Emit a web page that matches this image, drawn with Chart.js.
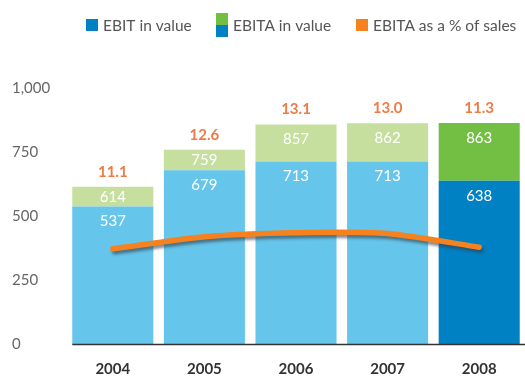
<!DOCTYPE html>
<html>
<head>
<meta charset="utf-8">
<script src="https://cdn.jsdelivr.net/npm/chart.js@4/dist/chart.umd.min.js"></script>
<style>
  html, body { margin: 0; padding: 0; background: #fff; }
  #wrap { width: 525px; height: 380px; }
</style>
</head>
<body>
<div id="wrap"><canvas id="c" width="525" height="380"></canvas></div>
<script>
// Yearly results (in millions) and EBITA margin
const years = ['2004', '2005', '2006', '2007', '2008'];
const ebit = [537, 679, 713, 713, 638];
const ebita = [614, 759, 857, 862, 863];
const ebitaPct = [11.1, 12.6, 13.1, 13.0, 11.3];
const yTicks = [0, 250, 500, 750, 1000];
const seriesNames = ['EBIT in value', 'EBITA in value', 'EBITA as a % of sales'];

// The latest year is shown in stronger colours
const highlightYear = '2008';
const C = {
  ebitLight: '#66c5eb', ebitDark: '#0081c4',
  ebitaLight: '#c6df9f', ebitaDark: '#72bf44',
  orange: '#f5821f', pctText: '#ef7b45',
  tick: '#666666', xTick: '#333333', legendText: '#555555'
};
const FONT = 'Lato, "Open Sans", sans-serif';

const ebitColors = years.map(y => y === highlightYear ? C.ebitDark : C.ebitLight);
const ebitaColors = years.map(y => y === highlightYear ? C.ebitaDark : C.ebitaLight);
// EBITA stacked on top of EBIT: the upper segment is the difference
const ebitaExtra = ebita.map((v, i) => v - ebit[i]);

const lineShadow = {
  id: 'lineShadow',
  beforeDatasetDraw(chart, args) {
    if (args.meta.type !== 'line') return;
    const ctx = chart.ctx;
    ctx.save();
    ctx.shadowColor = 'rgba(50,60,70,0.6)';
    ctx.shadowOffsetX = 2;
    ctx.shadowOffsetY = 3;
    ctx.shadowBlur = 3;
  },
  afterDatasetDraw(chart, args) {
    if (args.meta.type !== 'line') return;
    chart.ctx.restore();
  }
};

const barLabels = {
  id: 'barLabels',
  afterDatasetsDraw(chart) {
    const ctx = chart.ctx;
    const m0 = chart.getDatasetMeta(0);
    const m1 = chart.getDatasetMeta(1);
    const yScale = chart.scales.y;
    ctx.save();
    // baseline under the bars
    const first = m0.data[0];
    const y0 = Math.round(yScale.getPixelForValue(0)) + 0.5;
    ctx.strokeStyle = '#333333';
    ctx.lineWidth = 1.5;
    ctx.beginPath();
    ctx.moveTo(first.x - first.width / 2, y0);
    ctx.lineTo(chart.chartArea.right, y0);
    ctx.stroke();

    ctx.textAlign = 'center';
    ctx.textBaseline = 'middle';
    years.forEach((_, i) => {
      const b0 = m0.data[i], b1 = m1.data[i];
      ctx.fillStyle = '#ffffff';
      ctx.font = '15px ' + FONT;
      ctx.fillText(String(ebit[i]), b0.x, Math.min(b0.y + 15, (b0.y + b0.base) / 2));
      ctx.fillText(String(ebita[i]), b1.x, Math.min(b1.y + 15, (b1.y + b1.base) / 2));
      ctx.fillStyle = C.pctText;
      ctx.font = 'bold 15px ' + FONT;
      ctx.fillText(ebitaPct[i].toFixed(1), b1.x, b1.y - 15);
    });
    ctx.restore();
  }
};

const topLegend = {
  id: 'topLegend',
  afterDraw(chart) {
    const ctx = chart.ctx;
    const items = [
      { text: seriesNames[0], x: 86, boxes: [C.ebitDark] },
      { text: seriesNames[1], x: 216, boxes: [C.ebitaDark, C.ebitDark] },
      { text: seriesNames[2], x: 356, boxes: [C.orange] }
    ];
    const cy = 25, box = 12;
    ctx.save();
    ctx.font = '15.5px ' + FONT;
    ctx.textBaseline = 'middle';
    ctx.textAlign = 'left';
    items.forEach(it => {
      const h = box * it.boxes.length;
      it.boxes.forEach((col, k) => {
        ctx.fillStyle = col;
        ctx.fillRect(it.x, cy - h / 2 + k * box, box, box);
      });
      ctx.fillStyle = C.legendText;
      ctx.fillText(it.text, it.x + box + 5, cy + 1);
    });
    ctx.restore();
  }
};

new Chart(document.getElementById('c'), {
  data: {
    labels: years,
    datasets: [
      {
        type: 'bar', label: seriesNames[0], data: ebit,
        backgroundColor: ebitColors, stack: 's', order: 1,
        categoryPercentage: 1, barPercentage: 0.885, yAxisID: 'y'
      },
      {
        type: 'bar', label: seriesNames[1], data: ebitaExtra,
        backgroundColor: ebitaColors, stack: 's', order: 1,
        categoryPercentage: 1, barPercentage: 0.885, yAxisID: 'y'
      },
      {
        type: 'line', label: seriesNames[2], data: ebitaPct,
        borderColor: C.orange, borderWidth: 5.5, borderCapStyle: 'round',
        pointRadius: 0, tension: 0.22, order: 0, yAxisID: 'y1'
      }
    ]
  },
  options: {
    responsive: false,
    animation: false,
    layout: { padding: { top: 88, left: 12, right: 0, bottom: 0 } },
    plugins: { legend: { display: false }, tooltip: { enabled: false } },
    scales: {
      x: {
        stacked: true,
        grid: { display: false, drawTicks: false }, border: { display: false },
        afterFit: s => { s.height = 36; },
        ticks: { color: C.xTick, font: { family: FONT, size: 15, weight: 'bold' }, padding: 16 }
      },
      y: {
        stacked: true, min: 0, max: 1000,
        grid: { display: false }, border: { display: false },
        afterBuildTicks: s => { s.ticks = yTicks.map(v => ({ value: v })); },
        afterFit: s => { s.width = 55; },
        ticks: {
          color: C.tick, crossAlign: 'far', padding: 0,
          font: { family: FONT, size: 15 },
          callback: v => Number(v).toLocaleString('en-US')
        }
      },
      y1: { display: false, min: -0.8, max: 31.2 }
    }
  },
  plugins: [lineShadow, barLabels, topLegend]
});
</script>
</body>
</html>
